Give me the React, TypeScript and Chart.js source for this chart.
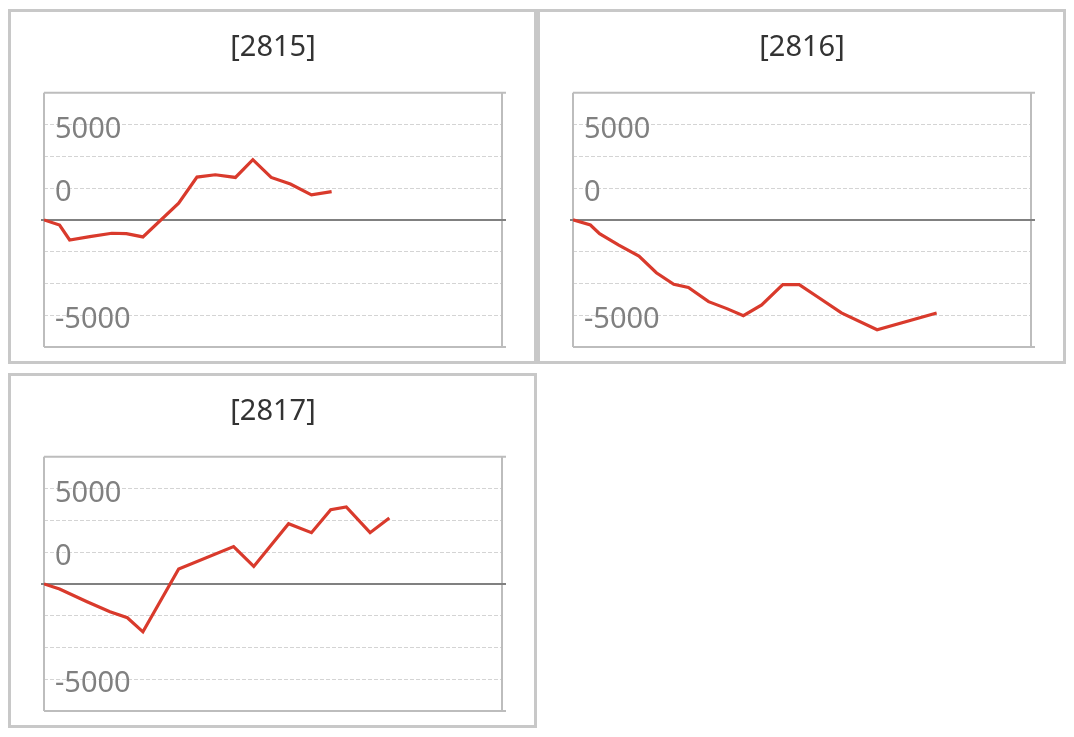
import React, { useEffect, useRef } from "react";
import { Chart, registerables } from "chart.js";

Chart.register(...registerables);

// scale settings
const X_MAX = 50;
const Y_MIN = -10000;
const Y_MAX = 10000;
const Y_STEP = 2500;

// the labels in the reference do not sit on their own values, so keep them paired
const yTickValues = [7500, 2500, -7500];
const yTickLabels = ["5000", "0", "-5000"];

const titles = ["[2815]", "[2816]", "[2817]"];

const x2815 = [0, 1.7, 2.8, 5.0, 7.4, 9.0, 10.8, 14.7, 16.7, 18.7, 20.9, 22.8, 24.8, 26.9, 29.2, 31.4];
const y2815 = [0, -400, -1580, -1320, -1050, -1080, -1340, 1320, 3370, 3550, 3340, 4740, 3340, 2820, 1970, 2230];

const x2816 = [0, 1.9, 2.9, 5.0, 7.2, 9.1, 11.0, 12.6, 14.8, 16.8, 18.6, 20.6, 22.9, 24.7, 26.6, 29.3, 33.2, 39.7];
const y2816 = [0, -400, -1080, -1980, -2850, -4160, -5060, -5320, -6430, -6980, -7540, -6690, -5090, -5090, -6010, -7320, -8640, -7320];

const x2817 = [0, 1.7, 4.7, 7.2, 9.1, 10.8, 14.7, 20.7, 22.9, 26.7, 29.2, 31.3, 33.0, 35.6, 37.7];
const y2817 = [0, -400, -1400, -2190, -2660, -3770, 1180, 2940, 1370, 4740, 4030, 5840, 6050, 4030, 5180];

const seriesX = [x2815, x2816, x2817];
const seriesY = [y2815, y2816, y2817];

const FONT = "'Noto Sans', 'DejaVu Sans', sans-serif";

const framePlugin = {
  id: "frame",
  beforeDatasetsDraw(chart: any) {
    const { ctx, chartArea: a, scales } = chart;
    const y0 = scales.y.getPixelForValue(0);
    ctx.save();
    ctx.lineWidth = 2;
    ctx.strokeStyle = "#bdbdbd";
    ctx.beginPath();
    ctx.moveTo(a.left, a.top);
    ctx.lineTo(a.right + 4, a.top);
    ctx.moveTo(a.left, a.bottom);
    ctx.lineTo(a.right + 4, a.bottom);
    ctx.moveTo(a.left, a.top);
    ctx.lineTo(a.left, a.bottom);
    ctx.moveTo(a.right, a.top);
    ctx.lineTo(a.right, a.bottom);
    ctx.stroke();
    ctx.strokeStyle = "#808080";
    ctx.beginPath();
    ctx.moveTo(a.left - 3, y0);
    ctx.lineTo(a.right + 4, y0);
    ctx.stroke();
    ctx.restore();
  },
};

const Panel = ({ index }: { index: number }) => {
  const canvasRef = useRef<HTMLCanvasElement | null>(null);

  useEffect(() => {
    if (!canvasRef.current) return;
    const xs = seriesX[index];
    const ys = seriesY[index];
    const chart = new Chart(canvasRef.current, {
      type: "line",
      data: {
        datasets: [
          {
            data: xs.map((x, i) => ({ x, y: ys[i] })),
            borderColor: "#d93a2c",
            borderWidth: 3.2,
            pointRadius: 0,
            tension: 0,
            fill: false,
          },
        ],
      },
      options: {
        animation: false,
        responsive: false,
        events: [],
        layout: { padding: { left: 33, right: 32, bottom: 14 } },
        plugins: {
          legend: { display: false },
          tooltip: { enabled: false },
          title: {
            display: true,
            text: titles[index],
            color: "#333",
            font: { family: FONT, size: 29, weight: "normal" },
            padding: { top: 18, bottom: 28 },
          },
        },
        scales: {
          x: { type: "linear", min: 0, max: X_MAX, display: false },
          y: {
            min: Y_MIN,
            max: Y_MAX,
            afterFit: (scale: any) => {
              // labels are mirrored inside the plot, the axis needs no room
              scale.width = 0;
            },
            ticks: {
              stepSize: Y_STEP,
              mirror: true,
              padding: 11,
              labelOffset: 5,
              color: "#808080",
              font: { family: FONT, size: 29, lineHeight: 0.1 },
              callback: (v: any) => {
                const k = yTickValues.indexOf(Number(v));
                return k >= 0 ? yTickLabels[k] : "";
              },
            },
            grid: { color: "#d4d4d4", lineWidth: 1, drawTicks: false },
            border: { display: false, dash: [4, 2] },
          },
        },
      },
      plugins: [framePlugin],
    });
    return () => {
      chart.destroy();
    };
  }, [index]);

  return (
    <div
      style={{
        width: 529,
        height: 355,
        boxSizing: "border-box",
        border: "3px solid #c8c8c8",
        background: "#fff",
      }}
    >
      <canvas ref={canvasRef} width={523} height={349} style={{ display: "block" }} />
    </div>
  );
};

export default function App() {
  return (
    <div
      style={{
        display: "grid",
        gridTemplateColumns: "529px 529px",
        rowGap: 9,
        marginTop: 1,
      }}
    >
      {titles.map((_, i) => (
        <Panel key={i} index={i} />
      ))}
    </div>
  );
}
